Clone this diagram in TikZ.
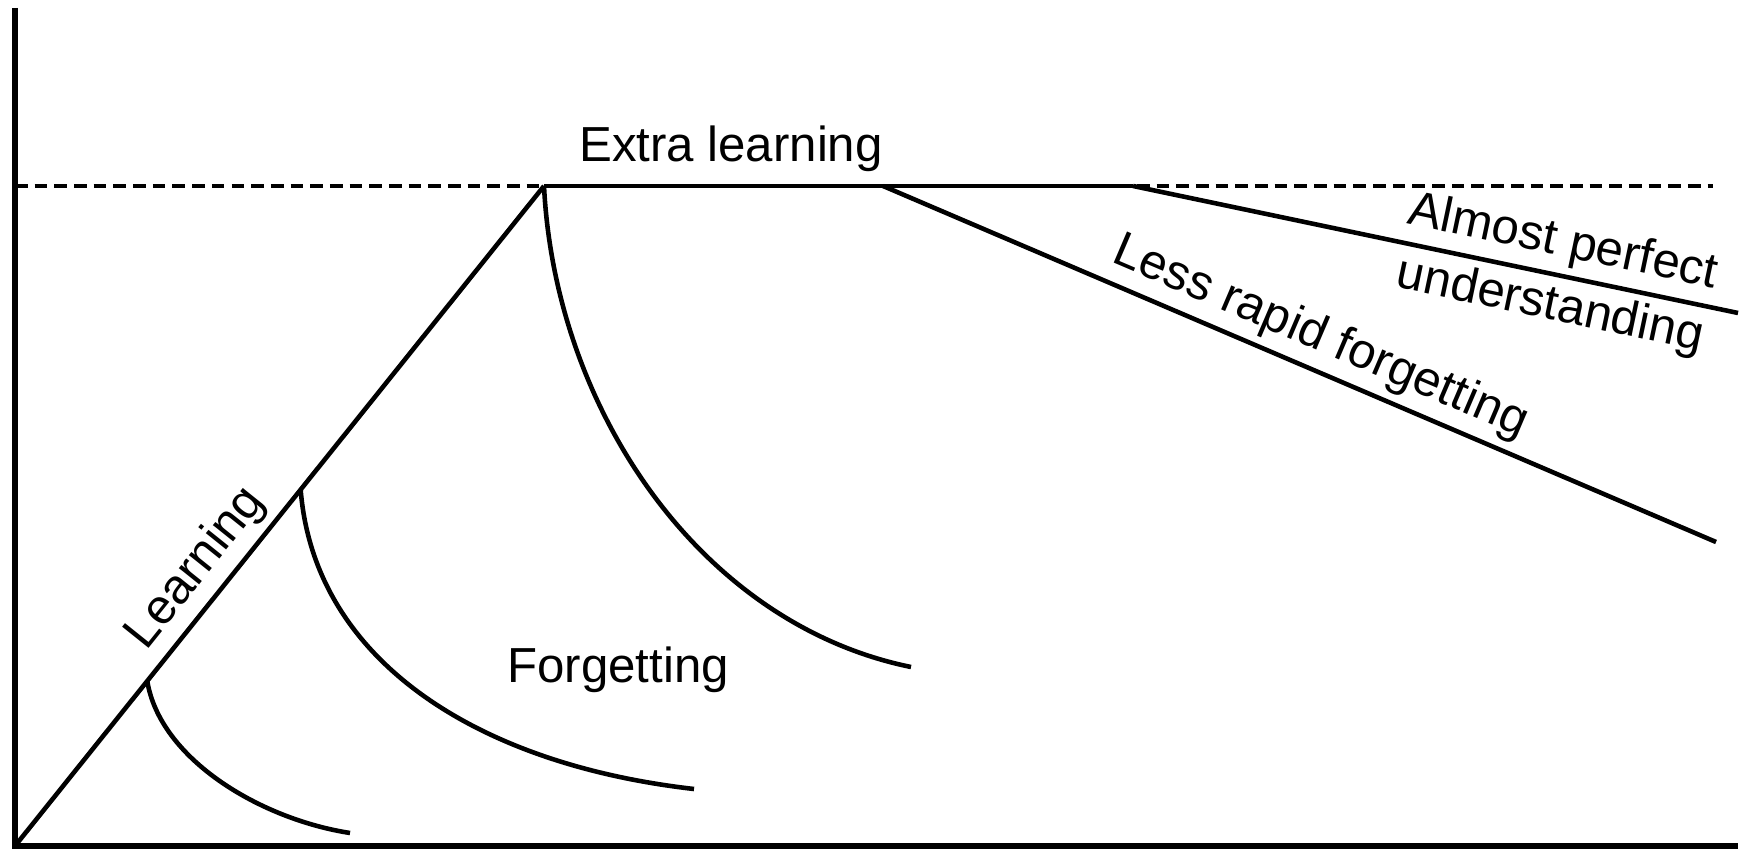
\documentclass[tikz,border=0pt]{standalone}
\usepackage{fontspec}
\setmainfont{Liberation Sans}
\usepackage{tikz}
\usetikzlibrary{positioning, calc}

\begin{document}
\begin{tikzpicture}[
            axis line/.style={
                    draw=black,
                    line width=1.5pt
                },
            curve line/.style={
                    draw=black,
                    line width=1.3pt
                },
            level line/.style={
                    draw=black,
                    line width=1.3pt,
                    dash pattern=on 3.6pt off 2pt
                },
            curve label/.style={
                    font=\fontsize{14}{16}\selectfont,
                    inner sep=2pt,
                    text centered
                }
        ]

        \useasboundingbox (0,0) rectangle (17.42,8.49);

        % Axes
        \coordinate (origin) at (0.15, 0.03);
        \coordinate (ytop) at (0.15, 8.41);
        \coordinate (xend) at (17.38, 0.03);
        \draw[axis line] (ytop) -- (origin) -- (xend);

        % Level reached by learning
        \coordinate (level-start) at (0.15, 6.63);
        \coordinate (level-end) at (17.13, 6.63);
        \draw[level line] (level-start) -- (level-end);

        % Key points
        \coordinate (peak) at (5.44, 6.63);
        \coordinate (extra-end) at (8.83, 6.63);
        \coordinate (perfect-start) at (11.33, 6.63);
        \coordinate (step1) at ($(origin)!0.25!(peak)$);
        \coordinate (step2) at ($(origin)!0.54!(peak)$);

        % Learning and extra learning
        \draw[curve line] (origin) -- (peak)
            node[curve label, pos=0.39, sloped, above] (learning) {Learning};
        \draw[curve line] (peak) -- (perfect-start);
        \node[curve label, above=2pt] (extra) at (7.31, 6.63) {Extra learning};

        % Forgetting curves
        \coordinate (forget1-end) at (3.50, 0.16);
        \coordinate (forget2-end) at (6.94, 0.60);
        \coordinate (forget3-end) at (9.11, 1.82);
        \draw[curve line] (step1) .. controls (1.60, 0.90) and (2.60, 0.30) .. (forget1-end);
        \draw[curve line] (step2) .. controls (3.14, 1.90) and (4.75, 0.85) .. (forget2-end);
        \draw[curve line] (peak) .. controls (5.55, 4.40) and (7.00, 2.25) .. (forget3-end);
        \node[curve label] (forgetting) at (6.18, 1.79) {Forgetting};

        % After extra learning
        \coordinate (slow-end) at (17.16, 3.07);
        \coordinate (perfect-end) at (17.38, 5.36);
        \draw[curve line] (extra-end) -- (slow-end)
            node[curve label, pos=0.51, sloped, above] (slow) {Less rapid forgetting};
        \draw[curve line] (perfect-start) -- (perfect-end)
            node[curve label, pos=0.70, sloped, above] (almost) {Almost perfect}
            node[curve label, pos=0.70, sloped, below] (understanding) {understanding};

    \end{tikzpicture}
\end{document}
